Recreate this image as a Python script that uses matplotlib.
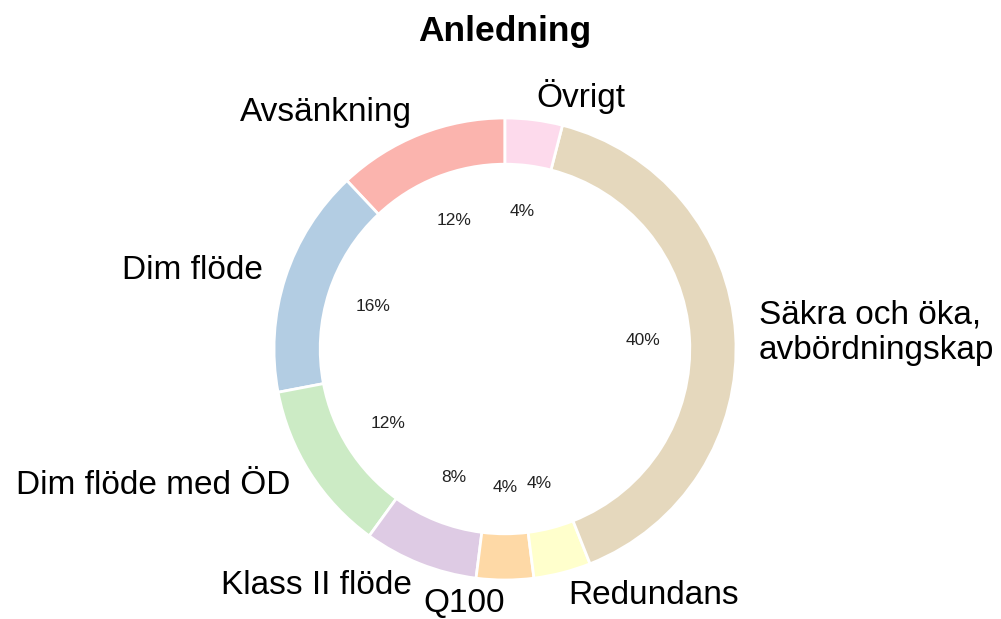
import matplotlib.pyplot as plt
import numpy as np

plt.rcParams['font.family'] = ['Liberation Sans', 'DejaVu Sans']

# Data (counts, shown as percentages)
labels = ['Avsänkning', 'Dim flöde', 'Dim flöde med ÖD', 'Klass II flöde',
          'Q100', 'Redundans', 'Säkra och öka,\navbördningskap', 'Övrigt']
counts = [3, 4, 3, 2, 1, 1, 10, 1]
colors = plt.cm.Pastel1(np.arange(len(counts)))

W, H = 1001, 619
cx, cy, r = 505, 349, 231  # pie centre and radius in pixels

fig = plt.figure(figsize=(W / 100, H / 100), dpi=100)
ax = fig.add_axes([0, 0, 1, 1])

wedges, texts, autotexts = ax.pie(
    counts, labels=labels, colors=colors, startangle=90,
    autopct='%1.0f%%', pctdistance=0.6, labeldistance=1.1,
    wedgeprops=dict(width=0.2, edgecolor='white', linewidth=2),
    textprops=dict(fontsize=24))
for t in autotexts:
    t.set_fontsize(12.5)
    t.set_color('#222222')
# Q100 sits at the very bottom; the original label hangs to the left
texts[labels.index('Q100')].set_ha('right')

ax.set_xlim(-cx / r, (W - cx) / r)
ax.set_ylim(-(H - cy) / r, cy / r)
ax.set_aspect('equal')
ax.axis('off')

fig.text(cx / W, 1 - 31 / H, 'Anledning', ha='center', va='center',
         fontsize=25.5, fontweight='bold')

fig.savefig('out.png', dpi=100)
